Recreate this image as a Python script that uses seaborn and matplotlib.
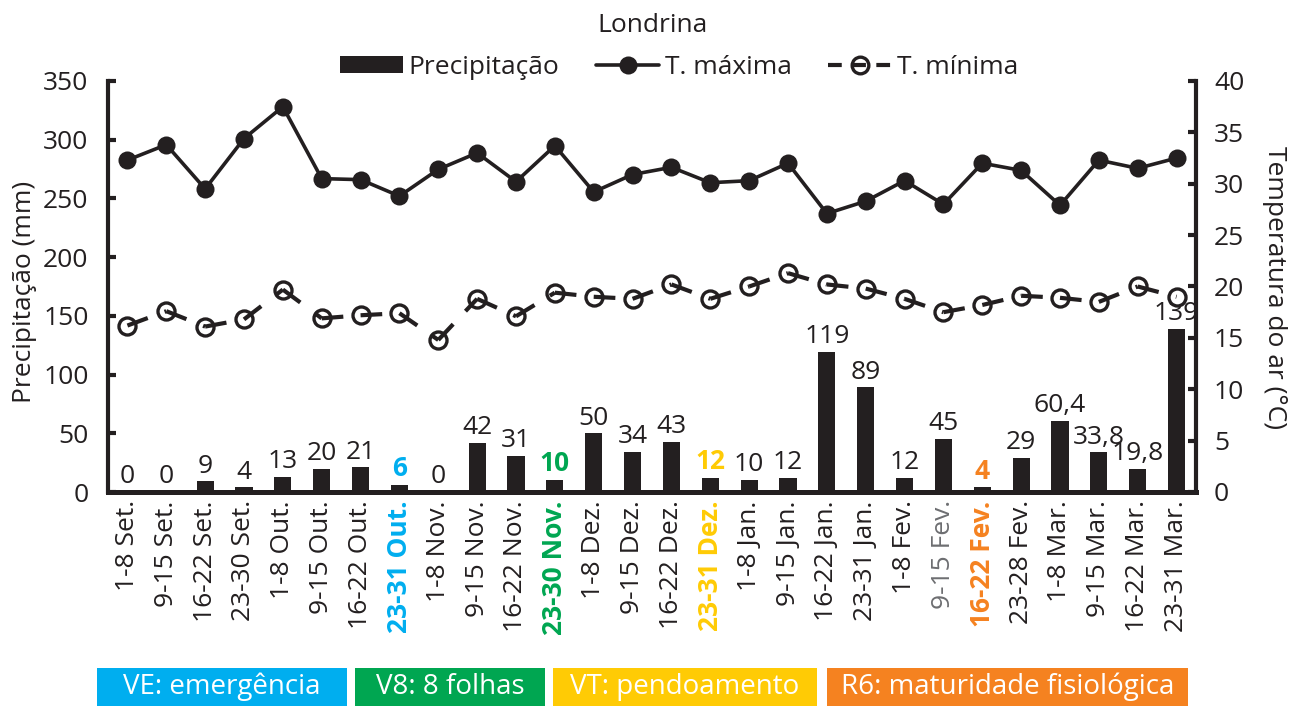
import numpy as np
import matplotlib
matplotlib.use("Agg")
import matplotlib.pyplot as plt
from matplotlib.patches import Patch, Rectangle
from matplotlib.lines import Line2D
from matplotlib.legend_handler import HandlerTuple
import seaborn as sns

# ---- data -------------------------------------------------------------
periods = [
    "1-8 Set.", "9-15 Set.", "16-22 Set.", "23-30 Set.",
    "1-8 Out.", "9-15 Out.", "16-22 Out.", "23-31 Out.",
    "1-8 Nov.", "9-15 Nov.", "16-22 Nov.", "23-30 Nov.",
    "1-8 Dez.", "9-15 Dez.", "16-22 Dez.", "23-31 Dez.",
    "1-8 Jan.", "9-15 Jan.", "16-22 Jan.", "23-31 Jan.",
    "1-8 Fev.", "9-15 Fev.", "16-22 Fev.", "23-28 Fev.",
    "1-8 Mar.", "9-15 Mar.", "16-22 Mar.", "23-31 Mar.",
]
precip = [0, 0, 9, 4, 13, 20, 21, 6, 0, 42, 31, 10, 50, 34, 43, 12,
          10, 12, 119, 89, 12, 45, 4, 29, 60.4, 33.8, 19.8, 139]
precip_text = ["0", "0", "9", "4", "13", "20", "21", "6", "0", "42", "31", "10",
               "50", "34", "43", "12", "10", "12", "119", "89", "12", "45", "4",
               "29", "60,4", "33,8", "19,8", "139"]
t_max = [32.3, 33.8, 29.5, 34.4, 37.5, 30.5, 30.4, 28.8, 31.4, 33.0, 30.2, 33.7,
         29.2, 30.9, 31.6, 30.1, 30.3, 32.0, 27.1, 28.3, 30.3, 28.0, 32.0, 31.3,
         27.9, 32.3, 31.5, 32.5]
t_min = [16.2, 17.6, 16.1, 16.8, 19.7, 16.9, 17.2, 17.4, 14.8, 18.8, 17.1, 19.4,
         19.0, 18.8, 20.2, 18.8, 20.0, 21.3, 20.2, 19.8, 18.8, 17.5, 18.2, 19.1,
         18.9, 18.5, 20.0, 19.0]

# growth stages highlighted on the time axis
stage_index = [7, 11, 15, 22]
stage_labels = ["VE: emergência", "V8: 8 folhas", "VT: pendoamento",
                "R6: maturidade fisiológica"]
stage_colors = ["#00AEEF", "#00A651", "#FFCB05", "#F58220"]
muted_index = [21]

# ---- style ------------------------------------------------------------
INK = "#231F20"
FS = 19
sns.set_style("white")
plt.rcParams["font.family"] = ["Open Sans", "DejaVu Sans"]
plt.rcParams["text.color"] = INK
plt.rcParams["axes.labelcolor"] = INK
plt.rcParams["xtick.color"] = INK
plt.rcParams["ytick.color"] = INK

W, H = 1291, 706
fig = plt.figure(figsize=(W / 100, H / 100), dpi=100)
ax = fig.add_axes([108 / W, 214 / H, 1088 / W, 411 / H])

# ---- precipitation bars ----------------------------------------------
sns.barplot(x=periods, y=precip, order=periods, ax=ax, color=INK,
            saturation=1, width=0.44, edgecolor="none")
ax.set_xlim(-0.5, len(periods) - 0.5)
ax.set_ylim(0, 350)
ax.set_yticks(np.arange(0, 351, 50))
ax.set_xlabel("")
ax.set_ylabel("")

stage_color_of = dict(zip(stage_index, stage_colors))
for i, (v, s) in enumerate(zip(precip, precip_text)):
    c = stage_color_of.get(i, INK)
    fw = "bold" if i in stage_color_of else "normal"
    ax.annotate(s, (i, v), xytext=(0, 2), textcoords="offset points",
                ha="center", va="bottom", fontsize=FS, color=c,
                fontweight=fw, annotation_clip=False, clip_on=True)

ax.set_xticks(range(len(periods)))
ax.set_xticklabels(periods, rotation=90, fontsize=FS)
for i, lab in enumerate(ax.get_xticklabels()):
    if i in stage_color_of:
        lab.set_color(stage_color_of[i])
        lab.set_fontweight("bold")
    elif i in muted_index:
        lab.set_color("#6D6E71")

ax.tick_params(axis="x", which="major", length=0, pad=6)
ax.set_xticks(np.arange(-0.5, len(periods), 1), minor=True)
ax.tick_params(axis="x", which="minor", direction="out", length=1.6,
               width=1.6, color="white")
ax.tick_params(axis="y", direction="in", length=6, width=3,
               labelsize=FS, pad=14)

for side in ["top", "right"]:
    ax.spines[side].set_visible(False)
ax.spines["left"].set_linewidth(3)
ax.spines["bottom"].set_linewidth(3.6)
ax.spines["left"].set_color(INK)
ax.spines["bottom"].set_color(INK)

# ---- temperature lines -----------------------------------------------
tw = ax.twinx()
pos = np.arange(len(periods))
sns.lineplot(x=pos, y=t_max, ax=tw, color=INK, linewidth=2.6,
             marker="o", markersize=13, markeredgewidth=0)

sns.scatterplot(x=pos, y=t_min, ax=tw, s=150, color="white",
                edgecolor=INK, linewidth=2.4, zorder=3)
for i in range(len(pos) - 1):
    tw.plot(pos[i:i + 2], t_min[i:i + 2], color=INK, linewidth=3,
            linestyle=(0, (5.2, 4.3)), solid_capstyle="butt",
            dash_capstyle="butt", zorder=4)

tw.set_ylim(0, 40)
tw.set_yticks(np.arange(0, 41, 5))
tw.set_xlim(-0.5, len(periods) - 0.5)
tw.set_ylabel("")
tw.tick_params(axis="y", direction="in", length=6, width=3,
               labelsize=FS, pad=13)
for side in ["top", "left", "bottom"]:
    tw.spines[side].set_visible(False)
tw.spines["right"].set_linewidth(3)
tw.spines["right"].set_color(INK)

# ---- labels, title, legend ------------------------------------------
fig.text(25 / W, 1 - 292 / H, "Precipitação (mm)", rotation=90,
         ha="center", va="center", fontsize=FS)
fig.text(1274 / W, 1 - 288 / H, "Temperatura do ar (°C)", rotation=270,
         ha="center", va="center", fontsize=FS)
fig.text(653 / W, 1 - 25 / H, "Londrina", ha="center", va="center",
         fontsize=FS)

h_bar = Patch(facecolor=INK, edgecolor="none")
h_max = Line2D([0], [0], color=INK, linewidth=2.6, marker="o",
               markersize=13, markeredgewidth=0)
h_min_mk = Line2D([0], [0], linestyle="none", marker="o", markersize=12,
                  markerfacecolor="white", markeredgecolor=INK,
                  markeredgewidth=2.4)
h_min_ln = Line2D([0], [0], color=INK, linewidth=3,
                  linestyle=(0, (3.3, 2.5)))
fig.legend([h_bar, h_max, (h_min_mk, h_min_ln)],
           ["Precipitação", "T. máxima", "T. mínima"],
           handler_map={tuple: HandlerTuple(ndivide=1, pad=0)},
           loc="center", bbox_to_anchor=(679 / W, 1 - 67 / H), ncol=3,
           frameon=False, fontsize=FS, handlelength=2.4, handleheight=0.6,
           handletextpad=0.2, columnspacing=1.4, borderpad=0)

# ---- growth stage boxes ------------------------------------------------
box_spans = [(97, 347), (355, 545), (553, 817), (827, 1188)]
for (x0, x1), text, col in zip(box_spans, stage_labels, stage_colors):
    fig.patches.append(Rectangle((x0 / W, 0), (x1 - x0) / W, 38 / H,
                                 transform=fig.transFigure, facecolor=col,
                                 edgecolor="none"))
    fig.text((x0 + x1) / 2 / W, 19 / H, text, ha="center", va="center",
             fontsize=20, color="white")

fig.savefig("out.png", dpi=100)
